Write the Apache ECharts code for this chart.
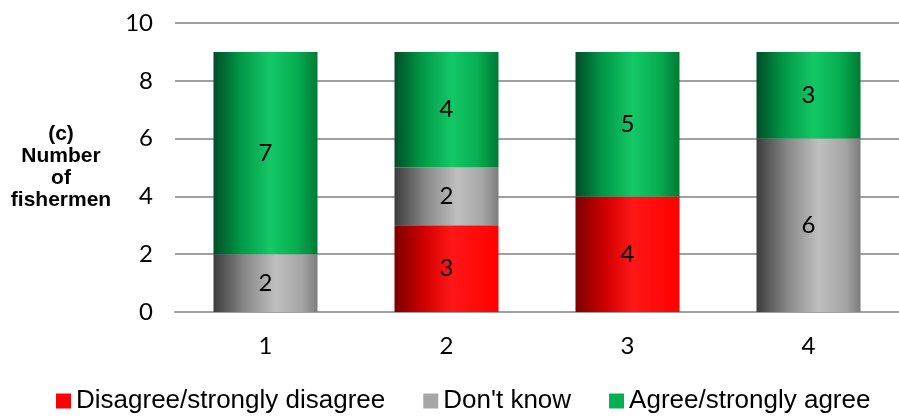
<!DOCTYPE html>
<html>
<head>
<meta charset="utf-8">
<script src="https://cdn.jsdelivr.net/npm/echarts@6/dist/echarts.min.js"></script>
<style>
html,body{margin:0;padding:0;background:#fff;}
#chart{width:899px;height:418px;}
</style>
</head>
<body>
<div id="chart"></div>
<script>
const categories = ['1', '2', '3', '4'];
const seriesNames = ['Disagree/strongly disagree', "Don't know", 'Agree/strongly agree'];
const disagree = [0, 3, 4, 0];
const dontKnow = [2, 2, 0, 6];
const agree = [7, 4, 5, 3];
const yMin = 0, yMax = 10, yStep = 2;
const yAxisTitle = '(c)\nNumber\nof\nfishermen';

function grad(stops) {
  return { type: 'linear', x: 0, y: 0, x2: 1, y2: 0,
    colorStops: stops.map(s => ({ offset: s[0], color: s[1] })) };
}
const redGrad = grad([[0,'#7c0000'],[0.3,'#d40000'],[0.55,'#ff1717'],[0.8,'#ff0a0a'],[1,'#ff0000']]);
const grayGrad = grad([[0,'#3c3c3c'],[0.3,'#888888'],[0.6,'#bfbfbf'],[0.85,'#a6a6a6'],[1,'#7c7c7c']]);
const greenGrad = grad([[0,'#004d28'],[0.25,'#009645'],[0.55,'#14c866'],[0.8,'#07ae51'],[1,'#007a36']]);

const labelFont = { fontFamily: 'Lato', fontSize: 24, color: '#000' };
const dataLabel = Object.assign({ show: true, position: 'inside',
  formatter: p => (p.value ? String(p.value) : '') }, labelFont);

const chart = echarts.init(document.getElementById('chart'), null, { renderer: 'canvas' });
chart.setOption({
  animation: false,
  backgroundColor: '#fff',
  grid: { left: 175, top: 23, width: 731, height: 289 },
  legend: {
    top: 383, left: 51,
    icon: 'rect', itemWidth: 15, itemHeight: 15, itemGap: 38,
    textStyle: { fontFamily: 'Liberation Sans', fontSize: 26, color: '#000', lineHeight: 26 },
    data: [
      { name: seriesNames[0], itemStyle: { color: '#ff0000' } },
      { name: seriesNames[1], itemStyle: { color: '#a6a6a6' } },
      { name: seriesNames[2], itemStyle: { color: '#00b050' } }
    ]
  },
  xAxis: {
    type: 'category', data: categories,
    axisLine: { show: true, lineStyle: { color: '#a0a0a0', width: 2 } },
    axisTick: { show: false },
    axisLabel: Object.assign({ margin: 22 }, labelFont)
  },
  yAxis: {
    type: 'value', min: yMin, max: yMax, interval: yStep,
    name: yAxisTitle, nameLocation: 'middle', nameRotate: 0, nameGap: 114,
    nameTextStyle: { fontFamily: 'Liberation Sans', fontWeight: 'bold', fontSize: 21,
      lineHeight: 22, color: '#000', align: 'center', verticalAlign: 'middle', padding: [0,0,6,0] },
    axisLine: { show: false }, axisTick: { show: false },
    splitLine: { lineStyle: { color: '#a0a0a0', width: 2 } },
    axisLabel: Object.assign({ margin: 22 }, labelFont)
  },
  series: [
    { name: seriesNames[0], type: 'bar', stack: 'a', data: disagree, barWidth: 104,
      itemStyle: { color: redGrad }, label: dataLabel },
    { name: seriesNames[1], type: 'bar', stack: 'a', data: dontKnow, barWidth: 104,
      itemStyle: { color: grayGrad }, label: dataLabel },
    { name: seriesNames[2], type: 'bar', stack: 'a', data: agree, barWidth: 104,
      itemStyle: { color: greenGrad }, label: dataLabel }
  ]
});
</script>
</body>
</html>
